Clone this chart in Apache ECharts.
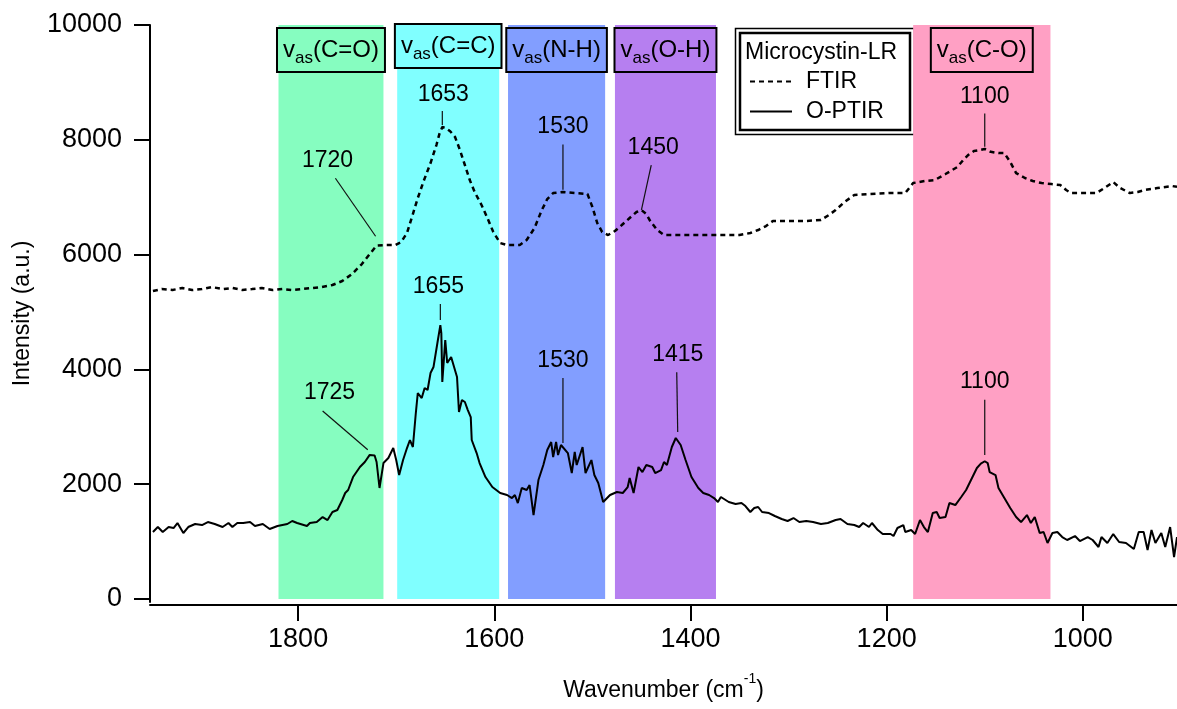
<!DOCTYPE html>
<html>
<head>
<meta charset="utf-8">
<script src="https://cdn.jsdelivr.net/npm/echarts@6/dist/echarts.min.js"></script>
<style>
  html, body { margin: 0; padding: 0; background: #fff; }
  #chart { width: 1177px; height: 709px; }
</style>
</head>
<body>
<div id="chart"></div>
<script>
// Microcystin-LR spectra: [wavenumber (cm-1), intensity (a.u.)]
const ftir = [
  [1948,5365],[1939,5400],[1928,5383],[1918,5418],[1908,5383],[1898,5400],[1888,5435],[1877,5400],
  [1867,5418],[1857,5383],[1847,5400],[1837,5418],[1826,5383],[1816,5400],[1806,5383],[1796,5400],
  [1786,5418],[1776,5435],[1765,5470],[1755,5540],[1745,5662],[1735,5836],[1727,6010],[1720,6157],
  [1711,6167],[1701,6167],[1695,6219],[1689,6376],[1683,6707],[1678,6985],[1672,7282],[1665,7595],
  [1659,7909],[1656,8100],[1653,8222],[1649,8200],[1645,8150],[1640,8048],[1635,7822],[1630,7561],
  [1625,7299],[1620,7090],[1613,6864],[1607,6637],[1601,6393],[1594,6202],[1587,6167],[1574,6167],
  [1567,6254],[1559,6463],[1552,6760],[1546,6968],[1540,7073],[1530,7090],[1518,7073],[1505,7055],
  [1500,6829],[1495,6549],[1490,6393],[1484,6341],[1477,6411],[1470,6515],[1462,6637],[1455,6742],
  [1450,6776],[1445,6707],[1441,6585],[1434,6428],[1427,6341],[1400,6341],[1375,6341],[1350,6341],
  [1339,6376],[1331,6428],[1323,6498],[1316,6585],[1299,6585],[1283,6585],[1267,6602],[1259,6689],
  [1252,6776],[1243,6916],[1233,7038],[1217,7055],[1197,7073],[1181,7073],[1173,7247],[1161,7282],
  [1151,7299],[1140,7404],[1128,7525],[1122,7647],[1117,7734],[1111,7804],[1105,7822],[1100,7840],
  [1094,7790],[1086,7769],[1080,7769],[1074,7613],[1068,7421],[1059,7334],[1051,7282],[1042,7247],
  [1032,7229],[1023,7212],[1017,7125],[1012,7073],[998,7073],[986,7073],[978,7160],[969,7264],
  [962,7160],[952,7073],[944,7090],[937,7125],[924,7160],[909,7195],[904,7180]
];

const optir = [
  [1948,1167],[1943,1254],[1938,1167],[1932,1254],[1927,1237],[1923,1324],[1917,1150],[1912,1254],
  [1905,1307],[1898,1289],[1892,1341],[1885,1307],[1877,1254],[1871,1324],[1867,1254],[1862,1324],
  [1856,1324],[1849,1341],[1844,1272],[1836,1307],[1829,1219],[1821,1272],[1811,1307],[1806,1359],
  [1801,1324],[1791,1272],[1788,1324],[1781,1341],[1775,1428],[1770,1376],[1765,1516],[1760,1550],
  [1755,1725],[1752,1847],[1749,1899],[1744,2125],[1737,2299],[1732,2387],[1727,2510],[1725,2543],
  [1722,2500],[1720,2387],[1717,1934],[1713,2369],[1708,2456],[1703,2630],[1700,2421],[1697,2160],
  [1693,2421],[1689,2630],[1686,2770],[1683,2648],[1680,3240],[1678,3589],[1674,3501],[1671,3676],
  [1668,3641],[1665,3937],[1662,4041],[1658,4460],[1655,4773],[1654,4634],[1653,3780],[1650,4512],
  [1648,4111],[1644,4216],[1642,4198],[1638,3867],[1636,3258],[1633,3467],[1630,3432],[1627,3292],
  [1624,3170],[1623,2770],[1618,2543],[1615,2369],[1609,2125],[1602,1951],[1594,1847],[1587,1812],
  [1582,1759],[1579,1812],[1576,1672],[1572,1934],[1567,1899],[1564,1986],[1560,1463],[1555,2073],
  [1550,2334],[1546,2596],[1542,2735],[1540,2474],[1537,2735],[1535,2508],[1532,2683],[1530,2700],
  [1525,2543],[1521,2195],[1518,2561],[1516,2334],[1510,2648],[1507,2195],[1501,2421],[1498,2160],
  [1494,2021],[1489,1690],[1482,1812],[1475,1864],[1469,1847],[1464,1951],[1462,2108],[1458,1847],
  [1453,2299],[1449,2212],[1445,2334],[1439,2299],[1436,2195],[1430,2247],[1427,2387],[1424,2334],
  [1419,2648],[1415,2805],[1410,2683],[1405,2421],[1399,2125],[1392,1934],[1387,1847],[1381,1812],
  [1376,1759],[1372,1690],[1369,1777],[1361,1690],[1354,1655],[1348,1672],[1344,1620],[1339,1516],
  [1335,1585],[1331,1603],[1327,1516],[1320,1498],[1314,1446],[1307,1394],[1301,1359],[1295,1411],
  [1289,1341],[1282,1359],[1275,1341],[1267,1307],[1260,1324],[1252,1376],[1247,1394],[1240,1307],
  [1233,1289],[1228,1254],[1224,1324],[1218,1254],[1215,1324],[1209,1202],[1204,1132],[1196,1132],
  [1193,1097],[1189,1237],[1183,1289],[1181,1167],[1175,1202],[1171,1132],[1166,1376],[1162,1254],
  [1158,1167],[1153,1498],[1149,1516],[1146,1411],[1140,1428],[1136,1672],[1130,1637],[1124,1777],
  [1119,1899],[1113,2108],[1108,2282],[1104,2360],[1100,2400],[1097,2369],[1095,2212],[1089,2160],
  [1086,1934],[1080,1759],[1074,1585],[1068,1428],[1063,1341],[1057,1463],[1053,1324],[1049,1428],
  [1044,1150],[1040,1167],[1036,976],[1031,1150],[1026,1167],[1021,1080],[1016,1028],[1008,1097],
  [1003,1010],[995,1080],[990,1028],[984,906],[981,1080],[975,976],[969,1132],[963,993],
  [956,976],[948,871],[943,1167],[938,1167],[934,854],[930,1202],[926,976],[920,1150],
  [916,906],[911,1254],[907,732],[904,1080]
];

// Vibrational band regions (cm-1)
const bandGroups = ['C=O', 'C=C', 'N-H', 'O-H', 'C-O'];
const bandFrom   = [1820, 1699, 1586, 1477, 1173];
const bandTo     = [1713, 1595, 1487, 1374, 1033];
const bandColors = ['#86fdc0', '#80ffff', '#829eff', '#b67ff0', '#ffa0c4'];

// Axis ticks
const xTicks = [1800, 1600, 1400, 1200, 1000];
const yTicks = [0, 2000, 4000, 6000, 8000, 10000];

// Peak callouts: text anchor and leader line in data units
const peakLabels = ['1653', '1720', '1530', '1450', '1100', '1655', '1725', '1530', '1415', '1100'];
const peakTextX  = [1652, 1770, 1530, 1438, 1100, 1657, 1768, 1530, 1413, 1100];
const peakTextY  = [8780, 7640, 8230, 7860, 8760, 5450, 3590, 4160, 4260, 3790];
const leadFromX  = [1653, 1762, 1530, 1440, 1100, 1655, 1775, 1530, 1414, 1100];
const leadFromY  = [8500, 7330, 7920, 7560, 8460, 5140, 3275, 3850, 3950, 3470];
const leadToX    = [1653, 1721, 1530, 1450, 1100, 1655, 1729, 1530, 1413, 1100];
const leadToY    = [8260, 6320, 7130, 6780, 7880, 4860, 2600, 2720, 2910, 2510];

const FONT = '"Liberation Sans", Arial, Helvetica, sans-serif';
const plain = v => String(v);

const bandAreas = bandGroups.map((g, i) => [
  {
    name: g,
    xAxis: bandFrom[i], yAxis: 10000,
    itemStyle: { color: bandColors[i], opacity: 1 },
    label: { backgroundColor: bandColors[i], distance: i === 1 ? 0 : 4 }
  },
  { xAxis: bandTo[i], yAxis: 0 }
]);

const calloutData = peakLabels.map((_, i) =>
  [peakTextX[i], peakTextY[i], leadFromX[i], leadFromY[i], leadToX[i], leadToY[i]]);

const chart = echarts.init(document.getElementById('chart'), null, { renderer: 'canvas' });

chart.setOption({
  animation: false,
  backgroundColor: '#ffffff',
  textStyle: { fontFamily: FONT, color: '#000' },
  grid: { left: 150, right: 0, top: 25, bottom: 107, containLabel: false, outerBoundsMode: 'none' },
  title: {
    text: 'Microcystin-LR',
    left: 745, top: 41,
    padding: 0,
    textStyle: { fontFamily: FONT, fontSize: 23, fontWeight: 'normal', color: '#000' }
  },
  legend: {
    data: ['FTIR', 'O-PTIR'],
    orient: 'vertical',
    left: 749, top: 70,
    padding: 0,
    itemWidth: 42, itemHeight: 14, itemGap: 7,
    itemStyle: { color: 'transparent', borderColor: 'transparent', borderWidth: 0 },
    textStyle: { fontFamily: FONT, fontSize: 23, color: '#000', padding: [0, 0, 0, 9] }
  },
  graphic: [
    { type: 'rect', z: 1, shape: { x: 735.5, y: 28.5, width: 179, height: 106 },
      style: { fill: '#fff', stroke: '#000', lineWidth: 1.5 } },
    { type: 'rect', z: 1, shape: { x: 740, y: 33, width: 170, height: 97 },
      style: { fill: 'none', stroke: '#000', lineWidth: 2.5 } }
  ],
  xAxis: {
    type: 'value',
    inverse: true,
    min: 904, max: 1951,
    offset: 3,
    name: '{n|Wavenumber (cm}{sup|-1}{n|)}',
    nameLocation: 'middle',
    nameGap: 67,
    nameTextStyle: {
      rich: {
        n: { fontFamily: FONT, fontSize: 23, color: '#000', lineHeight: 30, verticalAlign: 'bottom' },
        sup: { fontFamily: FONT, fontSize: 14, color: '#000', lineHeight: 14, verticalAlign: 'top' }
      }
    },
    axisLine: { show: true, onZero: false, lineStyle: { color: '#000', width: 2 } },
    axisTick: { show: true, length: 16, customValues: xTicks, lineStyle: { color: '#000', width: 2 } },
    axisLabel: { customValues: xTicks, formatter: plain, fontSize: 27, color: '#000', margin: 21, fontFamily: FONT },
    splitLine: { show: false }
  },
  yAxis: {
    type: 'value',
    min: -52, max: 10000,
    name: 'Intensity (a.u.)',
    nameLocation: 'middle',
    nameGap: 116,
    nameTextStyle: { fontFamily: FONT, fontSize: 23, color: '#000' },
    axisLine: { show: true, lineStyle: { color: '#000', width: 2 } },
    axisTick: { show: true, length: 16, customValues: yTicks, lineStyle: { color: '#000', width: 2 } },
    axisLabel: { customValues: yTicks, formatter: plain, fontSize: 27, color: '#000', margin: 28, fontFamily: FONT },
    splitLine: { show: false }
  },
  series: [
    {
      name: 'bands',
      type: 'line',
      data: [],
      z: 1,
      silent: true,
      markArea: {
        silent: true,
        label: {
          show: true,
          position: 'insideTop',
          borderColor: '#000',
          borderWidth: 2,
          padding: [4, 5, 4, 5],
          formatter: p => '{v|v}{s|as}{t|(' + p.name + ')}',
          rich: {
            v: { fontFamily: FONT, fontSize: 24, color: '#000', lineHeight: 34 },
            s: { fontFamily: FONT, fontSize: 17, color: '#000', lineHeight: 17, verticalAlign: 'bottom' },
            t: { fontFamily: FONT, fontSize: 24, color: '#000', lineHeight: 34 }
          }
        },
        data: bandAreas
      }
    },
    {
      name: 'FTIR',
      type: 'line',
      data: ftir,
      z: 3,
      symbol: 'none',
      lineStyle: { color: '#000', width: 2.5, type: [5, 4] },
      itemStyle: { color: '#000' }
    },
    {
      name: 'O-PTIR',
      type: 'line',
      data: optir,
      z: 3,
      symbol: 'none',
      lineStyle: { color: '#000', width: 2 },
      itemStyle: { color: '#000' }
    },
    {
      name: 'callouts',
      type: 'custom',
      z: 5,
      silent: true,
      clip: false,
      data: calloutData,
      encode: { x: [0, 2, 4], y: [1, 3, 5] },
      renderItem: (params, api) => {
        const t = api.coord([api.value(0), api.value(1)]);
        const a = api.coord([api.value(2), api.value(3)]);
        const b = api.coord([api.value(4), api.value(5)]);
        return {
          type: 'group',
          children: [
            { type: 'line', shape: { x1: a[0], y1: a[1], x2: b[0], y2: b[1] },
              style: { stroke: '#111', lineWidth: 1.2 } },
            { type: 'text', x: t[0], y: t[1],
              style: { text: peakLabels[params.dataIndex], fill: '#000',
                       font: '23px ' + FONT, align: 'center', verticalAlign: 'middle' } }
          ]
        };
      }
    }
  ]
});
</script>
</body>
</html>
